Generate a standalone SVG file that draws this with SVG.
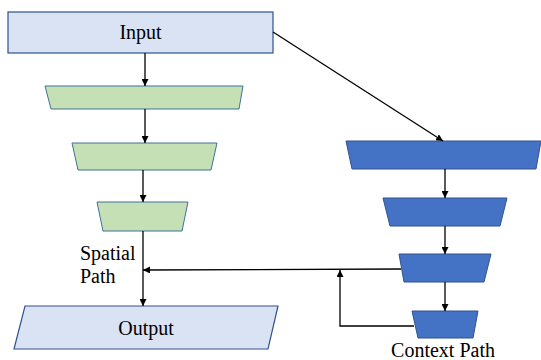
<svg xmlns="http://www.w3.org/2000/svg" width="541" height="360" viewBox="0 0 541 360">
<style>
.lt{fill:#dae3f3;stroke:#2f528f;stroke-width:1.2}
.gr{fill:#c5e0b4;stroke:#41719c;stroke-width:1}
.bl{fill:#4472c4;stroke:#2f528f;stroke-width:1}
.t{font-family:"Liberation Serif","Times New Roman",serif;font-size:20px;fill:#000}
.c{fill:none;stroke:#000;stroke-width:1.3}
</style>
<defs>
<marker id="a" viewBox="0 0 10 10" refX="10" refY="5" markerWidth="7" markerHeight="7" markerUnits="userSpaceOnUse" orient="auto">
<path d="M0,0 L10,5 L0,10 z" fill="#000"/>
</marker>
</defs>
<rect width="541" height="360" fill="#fff"/>
<g id="input"><rect class="lt" x="8" y="12" width="265" height="41"/><text class="t" x="140.5" y="39" text-anchor="middle">Input</text></g>
<g id="s1"><polygon class="gr" points="45,86 243,86 239,109 51,109"/></g>
<g id="s2"><polygon class="gr" points="72,143 217,143 211,170 78,170"/></g>
<g id="s3"><polygon class="gr" points="97,202 188,202 182,231 103,231"/></g>
<g id="spatial-label"><text class="t" x="80" y="260">Spatial</text><text class="t" x="80" y="283">Path</text></g>
<g id="output"><polygon class="lt" points="25,306 278,306 268,349 14,349"/><text class="t" x="146" y="335" text-anchor="middle">Output</text></g>
<g id="c1"><polygon class="bl" points="346,141 541,141 536,169 352,169"/></g>
<g id="c2"><polygon class="bl" points="383,198 507,198 500,226 390,226"/></g>
<g id="c3"><polygon class="bl" points="399,254 491,254 484,282 404,282"/></g>
<g id="c4"><polygon class="bl" points="412,311 478,311 473,338 418,338"/></g>
<g id="context-label"><text class="t" x="443" y="357" text-anchor="middle">Context Path</text></g>
<g id="connectors">
<line class="c" x1="145" y1="53" x2="145" y2="86" marker-end="url(#a)"/>
<line class="c" x1="145" y1="109" x2="145" y2="143" marker-end="url(#a)"/>
<line class="c" x1="143" y1="170" x2="143" y2="202" marker-end="url(#a)"/>
<line class="c" x1="143" y1="231" x2="143" y2="306" marker-end="url(#a)"/>
<line class="c" x1="273" y1="32" x2="443" y2="141" marker-end="url(#a)"/>
<line class="c" x1="445" y1="169" x2="445" y2="198" marker-end="url(#a)"/>
<line class="c" x1="445" y1="226" x2="445" y2="254" marker-end="url(#a)"/>
<line class="c" x1="445" y1="282" x2="445" y2="311" marker-end="url(#a)"/>
<line class="c" x1="401" y1="269" x2="143" y2="270" marker-end="url(#a)"/>
<polyline class="c" points="414,326 340,326 340,270" marker-end="url(#a)"/>
</g>
</svg>
